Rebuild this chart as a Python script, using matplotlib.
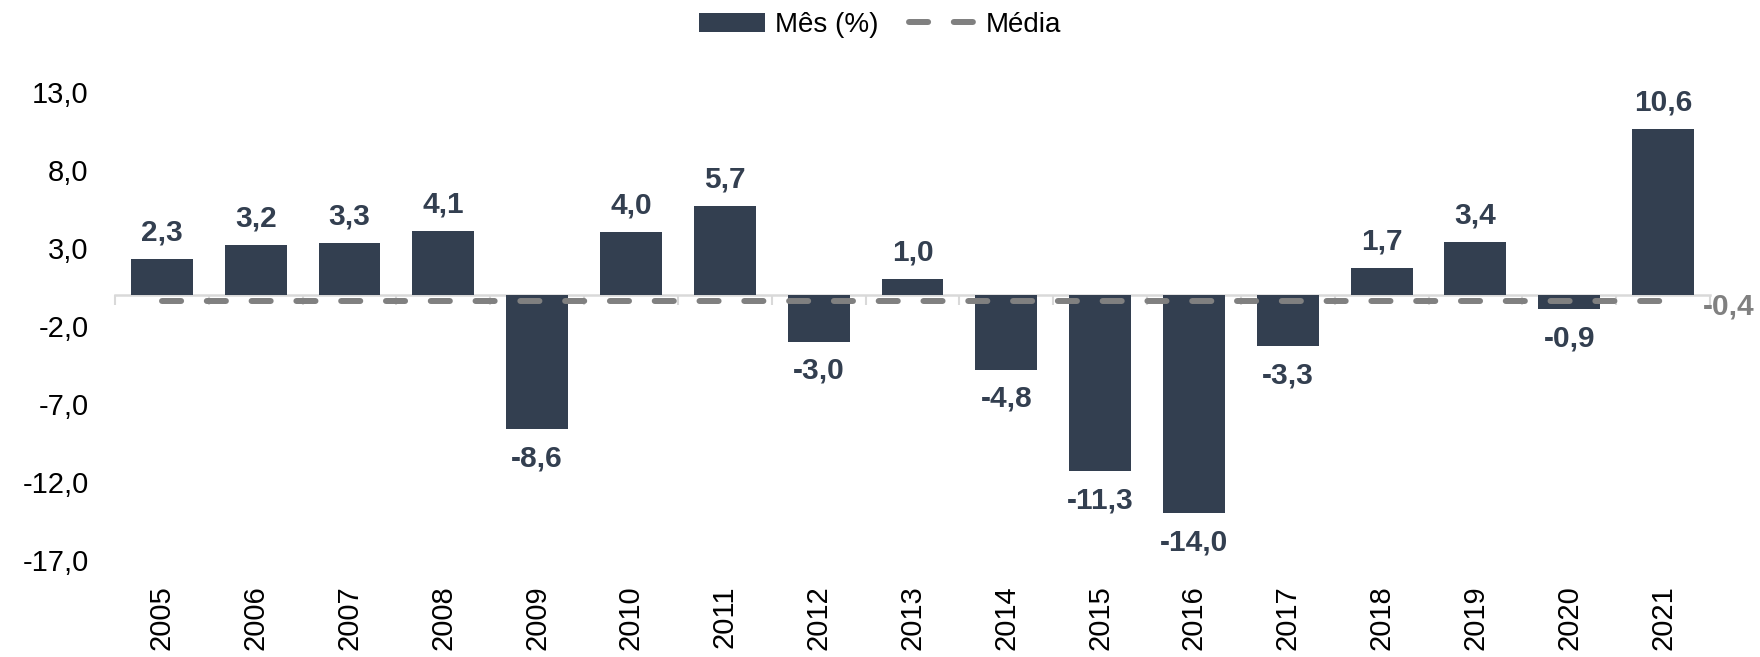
import matplotlib
matplotlib.use("Agg")
import matplotlib.pyplot as plt
import numpy as np

plt.rcParams["font.family"] = ["Liberation Sans", "DejaVu Sans"]

years = ["2005", "2006", "2007", "2008", "2009", "2010", "2011", "2012", "2013",
         "2014", "2015", "2016", "2017", "2018", "2019", "2020", "2021"]
values = [2.3, 3.2, 3.3, 4.1, -8.6, 4.0, 5.7, -3.0, 1.0,
          -4.8, -11.3, -14.0, -3.3, 1.7, 3.4, -0.9, 10.6]
media = -0.4
yticks = [13.0, 8.0, 3.0, -2.0, -7.0, -12.0, -17.0]

bar_color = "#333F50"
mean_color = "#808080"
axis_color = "#D9D9D9"

fig = plt.figure(figsize=(17.6, 6.57), dpi=100)
ax = fig.add_axes([0.0653, 0.1476, 0.9063, 0.7124])

x = np.arange(len(years))
bars = ax.bar(x, values, width=0.66, color=bar_color, zorder=2, label="Mês (%)")
mline, = ax.plot(x, [media] * len(x), color=mean_color, linewidth=4.3, linestyle=(0, (3.2, 4.3)),
                 dash_capstyle="round", zorder=3, label="Média")

ax.set_xlim(-0.5, len(years) - 0.5)
ax.set_ylim(-17, 13)

# data labels
for xi, v in zip(x, values):
    txt = f"{v:.1f}".replace(".", ",")
    if v >= 0:
        ax.annotate(txt, (xi, v), xytext=(0, 9), textcoords="offset points",
                    ha="center", va="bottom", fontsize=21.5, fontweight="bold", color=bar_color)
    else:
        ax.annotate(txt, (xi, v), xytext=(0, -11), textcoords="offset points",
                    ha="center", va="top", fontsize=21.5, fontweight="bold", color=bar_color)

ax.annotate(f"{media:.1f}".replace(".", ","), (len(years) - 0.5, media), xytext=(-5, -4),
            textcoords="offset points", ha="left", va="center", fontsize=21.5,
            fontweight="bold", color=mean_color)

# axes styling
for s in ax.spines.values():
    s.set_visible(False)
ax.set_yticks(yticks)
ax.set_yticklabels([f"{t:.1f}".replace(".", ",") for t in yticks])
ax.set_xticks(x)
ax.set_xticklabels(years, rotation=90)
ax.tick_params(axis="both", length=0, labelsize=21, colors="black")
ax.tick_params(axis="y", pad=19)
ax.tick_params(axis="x", pad=18)

# zero line with category boundary ticks
y0 = (0 - ax.get_ylim()[0]) / (ax.get_ylim()[1] - ax.get_ylim()[0])
sec = ax.secondary_xaxis(y0)
sec.set_alignment("bottom")
sec.spines["bottom"].set_color(axis_color)
sec.spines["bottom"].set_linewidth(1.8)
sec.set_xticks(np.arange(-0.5, len(years), 1.0))
sec.set_xticklabels([])
sec.tick_params(axis="x", direction="out", length=7, width=1.5, color=axis_color)
sec.set_zorder(1)

leg = fig.legend(handles=[bars, mline], loc="center", bbox_to_anchor=(0.5, 0.962), ncol=2,
                 frameon=False, fontsize=20, handlelength=2.4, handletextpad=0.36,
                 columnspacing=1.1)

fig.savefig("out.png", dpi=100)
